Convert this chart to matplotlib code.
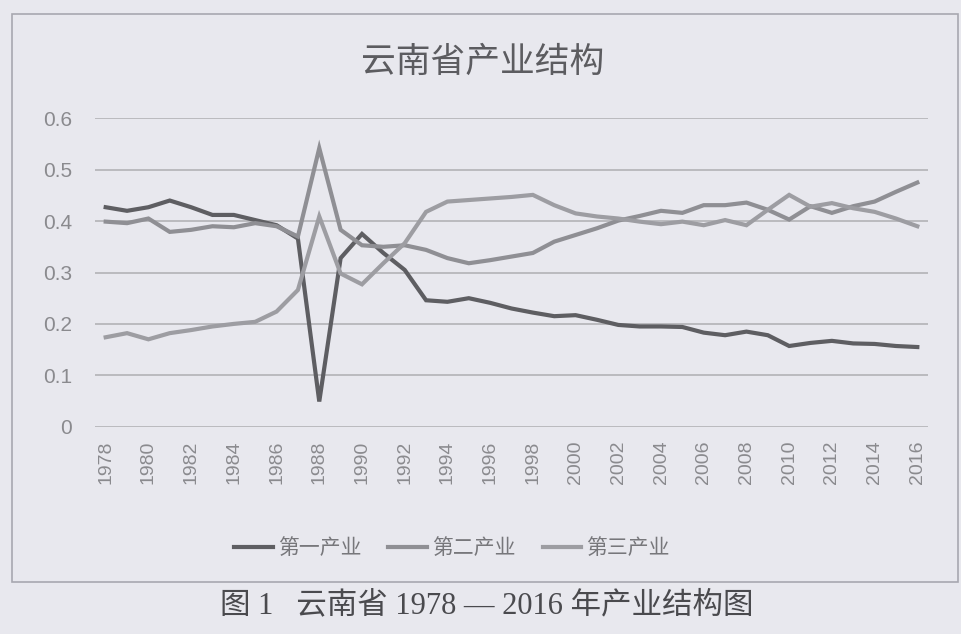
import matplotlib
matplotlib.use("Agg")
import matplotlib.pyplot as plt
from matplotlib.patches import Rectangle

plt.rcParams["font.family"] = ["Liberation Sans", "Noto Sans CJK SC", "DejaVu Sans"]

# shares of each sector in Yunnan's GDP
years = list(range(1978, 2017))
primary = [
    0.427, 0.420, 0.427, 0.440, 0.427, 0.412, 0.412, 0.402, 0.392, 0.366,
    0.049, 0.328, 0.375, 0.338, 0.305, 0.246, 0.243, 0.250, 0.241, 0.230,
    0.222, 0.215, 0.217, 0.208, 0.198, 0.195, 0.195, 0.194, 0.183, 0.178,
    0.185, 0.178, 0.157, 0.163, 0.167, 0.162, 0.161, 0.157, 0.155,
]
secondary = [
    0.399, 0.396, 0.405, 0.379, 0.383, 0.390, 0.388, 0.396, 0.390, 0.370,
    0.542, 0.383, 0.353, 0.350, 0.353, 0.344, 0.328, 0.318, 0.324, 0.331,
    0.338, 0.360, 0.373, 0.386, 0.401, 0.410, 0.420, 0.416, 0.431, 0.431,
    0.436, 0.422, 0.403, 0.429, 0.416, 0.429, 0.438, 0.457, 0.475,
]
tertiary = [
    0.174, 0.182, 0.170, 0.182, 0.188, 0.195, 0.200, 0.204, 0.224, 0.266,
    0.409, 0.298, 0.277, 0.318, 0.357, 0.418, 0.438, 0.441, 0.444, 0.447,
    0.451, 0.431, 0.415, 0.409, 0.405, 0.399, 0.394, 0.399, 0.392, 0.402,
    0.392, 0.422, 0.451, 0.428, 0.435, 0.425, 0.418, 0.405, 0.390,
]
series_names = ["第一产业", "第二产业", "第三产业"]
yticks = [0, 0.1, 0.2, 0.3, 0.4, 0.5, 0.6]
ytick_labels = ["0", "0.1", "0.2", "0.3", "0.4", "0.5", "0.6"]

bg = "#e8e8ee"
fig = plt.figure(figsize=(9.61, 6.34), dpi=100, facecolor=bg)

# chart frame
fig.patches.append(Rectangle((12 / 961, 1 - 582 / 634), 946 / 961, 568 / 634,
                             transform=fig.transFigure, fill=False,
                             edgecolor="#a8a8b0", linewidth=1.2))

ax = fig.add_axes([95 / 961, 1 - 426.7 / 634, 833 / 961, 308.4 / 634])
ax.set_facecolor(bg)

colors = ["#5e5e62", "#8f8f94", "#9d9da2"]
for vals, name, col in zip([primary, secondary, tertiary], series_names, colors):
    ax.plot(years, vals, color=col, linewidth=3.0, label=name, solid_joinstyle="miter")

ax.set_xlim(1977.5, 2016.5)
ax.set_ylim(0, 0.6)
ax.set_yticks(yticks)
ax.set_yticklabels(ytick_labels)
ax.set_xticks(years[::2])
ax.set_xticklabels([str(y) for y in years[::2]], rotation=90)
ax.tick_params(axis="y", length=0, pad=16.5, labelsize=15, labelcolor="#8a8a8e")
ax.tick_params(axis="x", length=0, pad=10, labelsize=14, labelcolor="#8a8a8e")
ax.grid(True, axis="y", color="#b2b2b6", linewidth=1.2)
ax.set_axisbelow(True)
for spine in ax.spines.values():
    spine.set_visible(False)

fig.text(483 / 961, 1 - 62 / 634, "云南省产业结构", ha="center", va="center",
         fontsize=25, color="#5c5c60", family=["Noto Sans CJK SC"])

fig.legend(loc="center", bbox_to_anchor=(452 / 961, 1 - 548 / 634), ncol=3,
           frameon=False, handlelength=1.85, handletextpad=0.25,
           columnspacing=1.3, labelcolor="#77777b",
           prop={"family": ["Noto Sans CJK SC"], "size": 15})

fig.text(487 / 961, 1 - 606 / 634, "图 1   云南省 1978 — 2016 年产业结构图",
         ha="center", va="center", fontsize=22, color="#4a4a4e",
         family=["Liberation Serif", "Noto Sans CJK SC"])

fig.savefig("out.png", dpi=100, facecolor=bg)
